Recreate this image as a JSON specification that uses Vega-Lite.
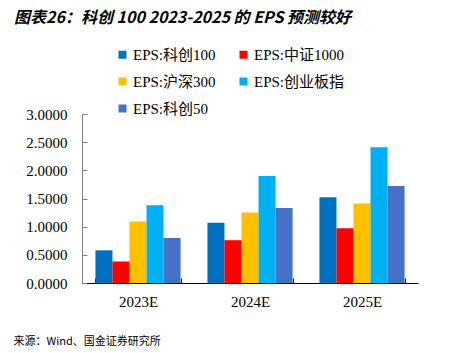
{
  "$schema": "https://vega.github.io/schema/vega-lite/v6.json",
  "width": 336,
  "height": 169,
  "autosize": {"type": "none"},
  "padding": {"left": 82, "top": 114, "right": 36, "bottom": 70},
  "background": "white",
  "config": {"view": {"stroke": null}},
  "title": {
    "text": "图表26：科创 100 2023-2025 的 EPS 预测较好",
    "anchor": "start",
    "frame": "group",
    "font": "Noto Sans CJK SC",
    "fontSize": 16,
    "fontWeight": "bold",
    "fontStyle": "italic",
    "color": "#000000",
    "dx": -68,
    "offset": 21
  },
  "data": {
    "values": [
      {"year": "2023E", "series": "EPS:科创100", "eps": 0.58},
      {"year": "2023E", "series": "EPS:中证1000", "eps": 0.38},
      {"year": "2023E", "series": "EPS:沪深300", "eps": 1.09},
      {"year": "2023E", "series": "EPS:创业板指", "eps": 1.38},
      {"year": "2023E", "series": "EPS:科创50", "eps": 0.80},
      {"year": "2024E", "series": "EPS:科创100", "eps": 1.07},
      {"year": "2024E", "series": "EPS:中证1000", "eps": 0.76},
      {"year": "2024E", "series": "EPS:沪深300", "eps": 1.25},
      {"year": "2024E", "series": "EPS:创业板指", "eps": 1.90},
      {"year": "2024E", "series": "EPS:科创50", "eps": 1.33},
      {"year": "2025E", "series": "EPS:科创100", "eps": 1.52},
      {"year": "2025E", "series": "EPS:中证1000", "eps": 0.97},
      {"year": "2025E", "series": "EPS:沪深300", "eps": 1.41},
      {"year": "2025E", "series": "EPS:创业板指", "eps": 2.41},
      {"year": "2025E", "series": "EPS:科创50", "eps": 1.72}
    ]
  },
  "mark": {"type": "bar"},
  "encoding": {
    "x": {
      "field": "year",
      "type": "nominal",
      "sort": null,
      "scale": {"paddingInner": 0.24, "paddingOuter": 0.12},
      "axis": {
        "title": "来源：Wind、国金证券研究所",
        "titleFont": "Noto Sans CJK SC",
        "titleFontSize": 11,
        "titleFontWeight": "normal",
        "titleColor": "#000000",
        "titleAnchor": "start",
        "titleAlign": "left",
        "titleX": -69,
        "titleY": 52,
        "labelAngle": 0,
        "labelFont": "Liberation Serif",
        "labelFontSize": 15,
        "labelColor": "#000000",
        "labelPadding": 16,
        "domainColor": "#000000",
        "tickColor": "#000000",
        "tickBand": "extent",
        "tickSize": -5
      }
    },
    "xOffset": {
      "field": "series",
      "type": "nominal",
      "sort": null,
      "scale": {"paddingInner": 0, "paddingOuter": 0}
    },
    "y": {
      "field": "eps",
      "type": "quantitative",
      "scale": {"domain": [0, 3]},
      "axis": {
        "title": null,
        "values": [0, 0.5, 1, 1.5, 2, 2.5, 3],
        "format": ".4f",
        "grid": false,
        "labelOverlap": false,
        "labelFont": "Liberation Serif",
        "labelFontSize": 15,
        "labelColor": "#000000",
        "labelPadding": 20,
        "domainColor": "#808080",
        "tickColor": "#808080",
        "tickSize": -5
      }
    },
    "color": {
      "field": "series",
      "type": "nominal",
      "sort": null,
      "scale": {
        "domain": ["EPS:科创100", "EPS:中证1000", "EPS:沪深300", "EPS:创业板指", "EPS:科创50"],
        "range": ["#0070C0", "#FF0000", "#FFC000", "#00B0F0", "#4472C4"]
      },
      "legend": {
        "title": null,
        "orient": "none",
        "direction": "horizontal",
        "legendX": 33,
        "legendY": -67,
        "columns": 2,
        "columnPadding": 20,
        "rowPadding": 11,
        "symbolType": "square",
        "symbolSize": 64,
        "symbolStrokeWidth": 0,
        "labelFont": "Liberation Serif, Noto Sans CJK SC",
        "labelFontSize": 15,
        "labelColor": "#000000",
        "labelOffset": 3
      }
    }
  }
}
